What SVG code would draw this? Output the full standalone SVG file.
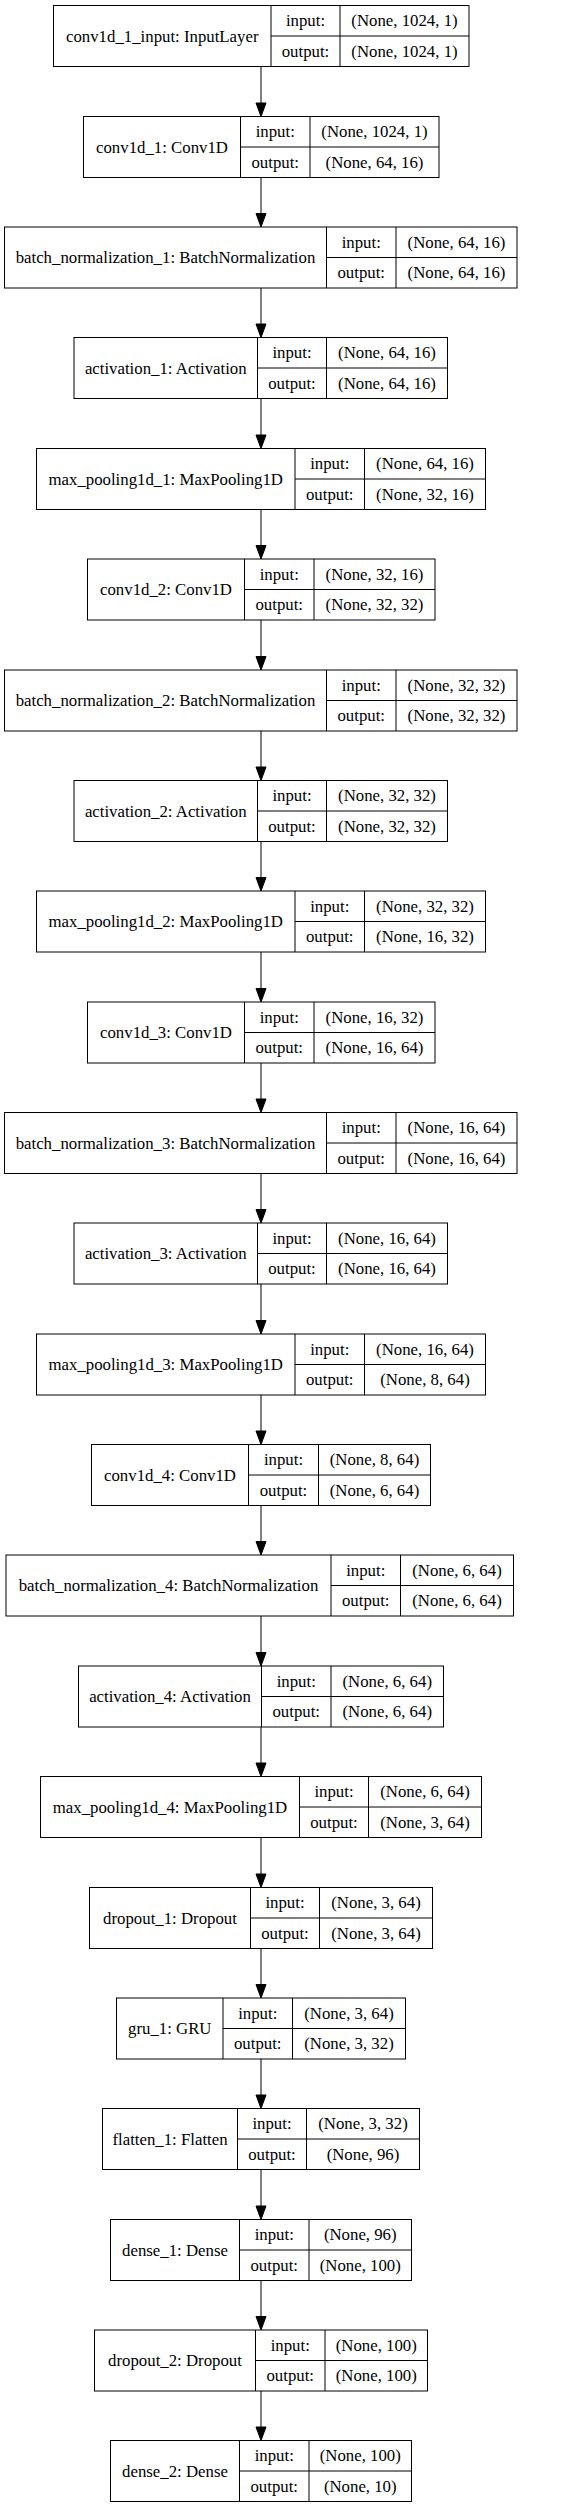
<svg xmlns="http://www.w3.org/2000/svg" width="563" height="2508" viewBox="0 0 563 2508">
<style>
.b{fill:#fff;stroke:#000;stroke-width:1}
.l{stroke:#000;stroke-width:1;fill:none}
.t{font-family:"Liberation Serif","Times New Roman",serif;font-size:16.8px;fill:#000;text-anchor:middle}
.e{stroke:#000;stroke-width:1}
.h{fill:#000;stroke:#000;stroke-width:1}
</style>
<rect width="563" height="2508" fill="#fff"/>
<g id="connectors">
<line class="e" x1="261" y1="66.5" x2="261" y2="103"/><polygon class="h" points="256,103 266,103 261,116.5"/>
<line class="e" x1="261" y1="177.5" x2="261" y2="213.5"/><polygon class="h" points="256,213.5 266,213.5 261,227"/>
<line class="e" x1="261" y1="288" x2="261" y2="324"/><polygon class="h" points="256,324 266,324 261,337.5"/>
<line class="e" x1="261" y1="398.5" x2="261" y2="435"/><polygon class="h" points="256,435 266,435 261,448.5"/>
<line class="e" x1="261" y1="509.5" x2="261" y2="545.5"/><polygon class="h" points="256,545.5 266,545.5 261,559"/>
<line class="e" x1="261" y1="620" x2="261" y2="656.5"/><polygon class="h" points="256,656.5 266,656.5 261,670"/>
<line class="e" x1="261" y1="731" x2="261" y2="767"/><polygon class="h" points="256,767 266,767 261,780.5"/>
<line class="e" x1="261" y1="841.5" x2="261" y2="877.5"/><polygon class="h" points="256,877.5 266,877.5 261,891"/>
<line class="e" x1="261" y1="952" x2="261" y2="988.5"/><polygon class="h" points="256,988.5 266,988.5 261,1002"/>
<line class="e" x1="261" y1="1063" x2="261" y2="1099"/><polygon class="h" points="256,1099 266,1099 261,1112.5"/>
<line class="e" x1="261" y1="1173.5" x2="261" y2="1209.5"/><polygon class="h" points="256,1209.5 266,1209.5 261,1223"/>
<line class="e" x1="261" y1="1284" x2="261" y2="1320.5"/><polygon class="h" points="256,1320.5 266,1320.5 261,1334"/>
<line class="e" x1="261" y1="1395" x2="261" y2="1431"/><polygon class="h" points="256,1431 266,1431 261,1444.5"/>
<line class="e" x1="261" y1="1505.5" x2="261" y2="1541.5"/><polygon class="h" points="256,1541.5 266,1541.5 261,1555"/>
<line class="e" x1="261" y1="1616" x2="261" y2="1652.5"/><polygon class="h" points="256,1652.5 266,1652.5 261,1666"/>
<line class="e" x1="261" y1="1727" x2="261" y2="1763"/><polygon class="h" points="256,1763 266,1763 261,1776.5"/>
<line class="e" x1="261" y1="1837.5" x2="261" y2="1874"/><polygon class="h" points="256,1874 266,1874 261,1887.5"/>
<line class="e" x1="261" y1="1948.5" x2="261" y2="1984.5"/><polygon class="h" points="256,1984.5 266,1984.5 261,1998"/>
<line class="e" x1="261" y1="2059" x2="261" y2="2095"/><polygon class="h" points="256,2095 266,2095 261,2108.5"/>
<line class="e" x1="261" y1="2169.5" x2="261" y2="2206"/><polygon class="h" points="256,2206 266,2206 261,2219.5"/>
<line class="e" x1="261" y1="2280.5" x2="261" y2="2316.5"/><polygon class="h" points="256,2316.5 266,2316.5 261,2330"/>
<line class="e" x1="261" y1="2391" x2="261" y2="2427"/><polygon class="h" points="256,2427 266,2427 261,2440.5"/>
</g>
<g id="conv1d_1_input" transform="translate(0,5.5)">
<rect class="b" x="53.5" y="0" width="415.5" height="61"/><line class="l" x1="271" y1="0" x2="271" y2="61"/><line class="l" x1="340" y1="0" x2="340" y2="61"/><line class="l" x1="271" y1="30.5" x2="469" y2="30.5"/>
<text class="t" x="162.25" y="36">conv1d_1_input: InputLayer</text><text class="t" x="305.5" y="20.5">input:</text><text class="t" x="305.5" y="51">output:</text><text class="t" x="404.5" y="20.5">(None, 1024, 1)</text><text class="t" x="404.5" y="51">(None, 1024, 1)</text>
</g>
<g id="conv1d_1" transform="translate(0,116.5)">
<rect class="b" x="83.5" y="0" width="355.5" height="61"/><line class="l" x1="240.5" y1="0" x2="240.5" y2="61"/><line class="l" x1="310" y1="0" x2="310" y2="61"/><line class="l" x1="240.5" y1="30.5" x2="439" y2="30.5"/>
<text class="t" x="162" y="36">conv1d_1: Conv1D</text><text class="t" x="275.25" y="20.5">input:</text><text class="t" x="275.25" y="51">output:</text><text class="t" x="374.5" y="20.5">(None, 1024, 1)</text><text class="t" x="374.5" y="51">(None, 64, 16)</text>
</g>
<g id="batch_normalization_1" transform="translate(0,227)">
<rect class="b" x="4.5" y="0" width="512.5" height="61"/><line class="l" x1="326.5" y1="0" x2="326.5" y2="61"/><line class="l" x1="396" y1="0" x2="396" y2="61"/><line class="l" x1="326.5" y1="30.5" x2="517" y2="30.5"/>
<text class="t" x="165.5" y="36">batch_normalization_1: BatchNormalization</text><text class="t" x="361.25" y="20.5">input:</text><text class="t" x="361.25" y="51">output:</text><text class="t" x="456.5" y="20.5">(None, 64, 16)</text><text class="t" x="456.5" y="51">(None, 64, 16)</text>
</g>
<g id="activation_1" transform="translate(0,337.5)">
<rect class="b" x="74" y="0" width="373.5" height="61"/><line class="l" x1="257.5" y1="0" x2="257.5" y2="61"/><line class="l" x1="326.5" y1="0" x2="326.5" y2="61"/><line class="l" x1="257.5" y1="30.5" x2="447.5" y2="30.5"/>
<text class="t" x="165.75" y="36">activation_1: Activation</text><text class="t" x="292" y="20.5">input:</text><text class="t" x="292" y="51">output:</text><text class="t" x="387" y="20.5">(None, 64, 16)</text><text class="t" x="387" y="51">(None, 64, 16)</text>
</g>
<g id="max_pooling1d_1" transform="translate(0,448.5)">
<rect class="b" x="36.5" y="0" width="449" height="61"/><line class="l" x1="295" y1="0" x2="295" y2="61"/><line class="l" x1="364.5" y1="0" x2="364.5" y2="61"/><line class="l" x1="295" y1="30.5" x2="485.5" y2="30.5"/>
<text class="t" x="165.75" y="36">max_pooling1d_1: MaxPooling1D</text><text class="t" x="329.75" y="20.5">input:</text><text class="t" x="329.75" y="51">output:</text><text class="t" x="425" y="20.5">(None, 64, 16)</text><text class="t" x="425" y="51">(None, 32, 16)</text>
</g>
<g id="conv1d_2" transform="translate(0,559)">
<rect class="b" x="87.5" y="0" width="347.5" height="61"/><line class="l" x1="244.5" y1="0" x2="244.5" y2="61"/><line class="l" x1="314" y1="0" x2="314" y2="61"/><line class="l" x1="244.5" y1="30.5" x2="435" y2="30.5"/>
<text class="t" x="166" y="36">conv1d_2: Conv1D</text><text class="t" x="279.25" y="20.5">input:</text><text class="t" x="279.25" y="51">output:</text><text class="t" x="374.5" y="20.5">(None, 32, 16)</text><text class="t" x="374.5" y="51">(None, 32, 32)</text>
</g>
<g id="batch_normalization_2" transform="translate(0,670)">
<rect class="b" x="4.5" y="0" width="512.5" height="61"/><line class="l" x1="326.5" y1="0" x2="326.5" y2="61"/><line class="l" x1="396" y1="0" x2="396" y2="61"/><line class="l" x1="326.5" y1="30.5" x2="517" y2="30.5"/>
<text class="t" x="165.5" y="36">batch_normalization_2: BatchNormalization</text><text class="t" x="361.25" y="20.5">input:</text><text class="t" x="361.25" y="51">output:</text><text class="t" x="456.5" y="20.5">(None, 32, 32)</text><text class="t" x="456.5" y="51">(None, 32, 32)</text>
</g>
<g id="activation_2" transform="translate(0,780.5)">
<rect class="b" x="74" y="0" width="373.5" height="61"/><line class="l" x1="257.5" y1="0" x2="257.5" y2="61"/><line class="l" x1="326.5" y1="0" x2="326.5" y2="61"/><line class="l" x1="257.5" y1="30.5" x2="447.5" y2="30.5"/>
<text class="t" x="165.75" y="36">activation_2: Activation</text><text class="t" x="292" y="20.5">input:</text><text class="t" x="292" y="51">output:</text><text class="t" x="387" y="20.5">(None, 32, 32)</text><text class="t" x="387" y="51">(None, 32, 32)</text>
</g>
<g id="max_pooling1d_2" transform="translate(0,891)">
<rect class="b" x="36.5" y="0" width="449" height="61"/><line class="l" x1="295" y1="0" x2="295" y2="61"/><line class="l" x1="364.5" y1="0" x2="364.5" y2="61"/><line class="l" x1="295" y1="30.5" x2="485.5" y2="30.5"/>
<text class="t" x="165.75" y="36">max_pooling1d_2: MaxPooling1D</text><text class="t" x="329.75" y="20.5">input:</text><text class="t" x="329.75" y="51">output:</text><text class="t" x="425" y="20.5">(None, 32, 32)</text><text class="t" x="425" y="51">(None, 16, 32)</text>
</g>
<g id="conv1d_3" transform="translate(0,1002)">
<rect class="b" x="87.5" y="0" width="347.5" height="61"/><line class="l" x1="244.5" y1="0" x2="244.5" y2="61"/><line class="l" x1="314" y1="0" x2="314" y2="61"/><line class="l" x1="244.5" y1="30.5" x2="435" y2="30.5"/>
<text class="t" x="166" y="36">conv1d_3: Conv1D</text><text class="t" x="279.25" y="20.5">input:</text><text class="t" x="279.25" y="51">output:</text><text class="t" x="374.5" y="20.5">(None, 16, 32)</text><text class="t" x="374.5" y="51">(None, 16, 64)</text>
</g>
<g id="batch_normalization_3" transform="translate(0,1112.5)">
<rect class="b" x="4.5" y="0" width="512.5" height="61"/><line class="l" x1="326.5" y1="0" x2="326.5" y2="61"/><line class="l" x1="396" y1="0" x2="396" y2="61"/><line class="l" x1="326.5" y1="30.5" x2="517" y2="30.5"/>
<text class="t" x="165.5" y="36">batch_normalization_3: BatchNormalization</text><text class="t" x="361.25" y="20.5">input:</text><text class="t" x="361.25" y="51">output:</text><text class="t" x="456.5" y="20.5">(None, 16, 64)</text><text class="t" x="456.5" y="51">(None, 16, 64)</text>
</g>
<g id="activation_3" transform="translate(0,1223)">
<rect class="b" x="74" y="0" width="373.5" height="61"/><line class="l" x1="257.5" y1="0" x2="257.5" y2="61"/><line class="l" x1="326.5" y1="0" x2="326.5" y2="61"/><line class="l" x1="257.5" y1="30.5" x2="447.5" y2="30.5"/>
<text class="t" x="165.75" y="36">activation_3: Activation</text><text class="t" x="292" y="20.5">input:</text><text class="t" x="292" y="51">output:</text><text class="t" x="387" y="20.5">(None, 16, 64)</text><text class="t" x="387" y="51">(None, 16, 64)</text>
</g>
<g id="max_pooling1d_3" transform="translate(0,1334)">
<rect class="b" x="36.5" y="0" width="449" height="61"/><line class="l" x1="295" y1="0" x2="295" y2="61"/><line class="l" x1="364.5" y1="0" x2="364.5" y2="61"/><line class="l" x1="295" y1="30.5" x2="485.5" y2="30.5"/>
<text class="t" x="165.75" y="36">max_pooling1d_3: MaxPooling1D</text><text class="t" x="329.75" y="20.5">input:</text><text class="t" x="329.75" y="51">output:</text><text class="t" x="425" y="20.5">(None, 16, 64)</text><text class="t" x="425" y="51">(None, 8, 64)</text>
</g>
<g id="conv1d_4" transform="translate(0,1444.5)">
<rect class="b" x="91.5" y="0" width="339" height="61"/><line class="l" x1="248.5" y1="0" x2="248.5" y2="61"/><line class="l" x1="318.5" y1="0" x2="318.5" y2="61"/><line class="l" x1="248.5" y1="30.5" x2="430.5" y2="30.5"/>
<text class="t" x="170" y="36">conv1d_4: Conv1D</text><text class="t" x="283.5" y="20.5">input:</text><text class="t" x="283.5" y="51">output:</text><text class="t" x="374.5" y="20.5">(None, 8, 64)</text><text class="t" x="374.5" y="51">(None, 6, 64)</text>
</g>
<g id="batch_normalization_4" transform="translate(0,1555)">
<rect class="b" x="6" y="0" width="507.5" height="61"/><line class="l" x1="331" y1="0" x2="331" y2="61"/><line class="l" x1="400.5" y1="0" x2="400.5" y2="61"/><line class="l" x1="331" y1="30.5" x2="513.5" y2="30.5"/>
<text class="t" x="168.5" y="36">batch_normalization_4: BatchNormalization</text><text class="t" x="365.75" y="20.5">input:</text><text class="t" x="365.75" y="51">output:</text><text class="t" x="457" y="20.5">(None, 6, 64)</text><text class="t" x="457" y="51">(None, 6, 64)</text>
</g>
<g id="activation_4" transform="translate(0,1666)">
<rect class="b" x="78.5" y="0" width="365" height="61"/><line class="l" x1="261.5" y1="0" x2="261.5" y2="61"/><line class="l" x1="331" y1="0" x2="331" y2="61"/><line class="l" x1="261.5" y1="30.5" x2="443.5" y2="30.5"/>
<text class="t" x="170" y="36">activation_4: Activation</text><text class="t" x="296.25" y="20.5">input:</text><text class="t" x="296.25" y="51">output:</text><text class="t" x="387.25" y="20.5">(None, 6, 64)</text><text class="t" x="387.25" y="51">(None, 6, 64)</text>
</g>
<g id="max_pooling1d_4" transform="translate(0,1776.5)">
<rect class="b" x="40.5" y="0" width="441" height="61"/><line class="l" x1="299.5" y1="0" x2="299.5" y2="61"/><line class="l" x1="368.5" y1="0" x2="368.5" y2="61"/><line class="l" x1="299.5" y1="30.5" x2="481.5" y2="30.5"/>
<text class="t" x="170" y="36">max_pooling1d_4: MaxPooling1D</text><text class="t" x="334" y="20.5">input:</text><text class="t" x="334" y="51">output:</text><text class="t" x="425" y="20.5">(None, 6, 64)</text><text class="t" x="425" y="51">(None, 3, 64)</text>
</g>
<g id="dropout_1" transform="translate(0,1887.5)">
<rect class="b" x="89.5" y="0" width="343" height="61"/><line class="l" x1="250.5" y1="0" x2="250.5" y2="61"/><line class="l" x1="319.5" y1="0" x2="319.5" y2="61"/><line class="l" x1="250.5" y1="30.5" x2="432.5" y2="30.5"/>
<text class="t" x="170" y="36">dropout_1: Dropout</text><text class="t" x="285" y="20.5">input:</text><text class="t" x="285" y="51">output:</text><text class="t" x="376" y="20.5">(None, 3, 64)</text><text class="t" x="376" y="51">(None, 3, 64)</text>
</g>
<g id="gru_1" transform="translate(0,1998)">
<rect class="b" x="116.5" y="0" width="289" height="61"/><line class="l" x1="223" y1="0" x2="223" y2="61"/><line class="l" x1="292.5" y1="0" x2="292.5" y2="61"/><line class="l" x1="223" y1="30.5" x2="405.5" y2="30.5"/>
<text class="t" x="169.75" y="36">gru_1: GRU</text><text class="t" x="257.75" y="20.5">input:</text><text class="t" x="257.75" y="51">output:</text><text class="t" x="349" y="20.5">(None, 3, 64)</text><text class="t" x="349" y="51">(None, 3, 32)</text>
</g>
<g id="flatten_1" transform="translate(0,2108.5)">
<rect class="b" x="102.5" y="0" width="317" height="61"/><line class="l" x1="237.5" y1="0" x2="237.5" y2="61"/><line class="l" x1="306.5" y1="0" x2="306.5" y2="61"/><line class="l" x1="237.5" y1="30.5" x2="419.5" y2="30.5"/>
<text class="t" x="170" y="36">flatten_1: Flatten</text><text class="t" x="272" y="20.5">input:</text><text class="t" x="272" y="51">output:</text><text class="t" x="363" y="20.5">(None, 3, 32)</text><text class="t" x="363" y="51">(None, 96)</text>
</g>
<g id="dense_1" transform="translate(0,2219.5)">
<rect class="b" x="110.5" y="0" width="301" height="61"/><line class="l" x1="239.5" y1="0" x2="239.5" y2="61"/><line class="l" x1="309" y1="0" x2="309" y2="61"/><line class="l" x1="239.5" y1="30.5" x2="411.5" y2="30.5"/>
<text class="t" x="175" y="36">dense_1: Dense</text><text class="t" x="274.25" y="20.5">input:</text><text class="t" x="274.25" y="51">output:</text><text class="t" x="360.25" y="20.5">(None, 96)</text><text class="t" x="360.25" y="51">(None, 100)</text>
</g>
<g id="dropout_2" transform="translate(0,2330)">
<rect class="b" x="94.5" y="0" width="333" height="61"/><line class="l" x1="255.5" y1="0" x2="255.5" y2="61"/><line class="l" x1="325" y1="0" x2="325" y2="61"/><line class="l" x1="255.5" y1="30.5" x2="427.5" y2="30.5"/>
<text class="t" x="175" y="36">dropout_2: Dropout</text><text class="t" x="290.25" y="20.5">input:</text><text class="t" x="290.25" y="51">output:</text><text class="t" x="376.25" y="20.5">(None, 100)</text><text class="t" x="376.25" y="51">(None, 100)</text>
</g>
<g id="dense_2" transform="translate(0,2440.5)">
<rect class="b" x="110.5" y="0" width="301" height="61"/><line class="l" x1="239.5" y1="0" x2="239.5" y2="61"/><line class="l" x1="309" y1="0" x2="309" y2="61"/><line class="l" x1="239.5" y1="30.5" x2="411.5" y2="30.5"/>
<text class="t" x="175" y="36">dense_2: Dense</text><text class="t" x="274.25" y="20.5">input:</text><text class="t" x="274.25" y="51">output:</text><text class="t" x="360.25" y="20.5">(None, 100)</text><text class="t" x="360.25" y="51">(None, 10)</text>
</g>
</svg>
